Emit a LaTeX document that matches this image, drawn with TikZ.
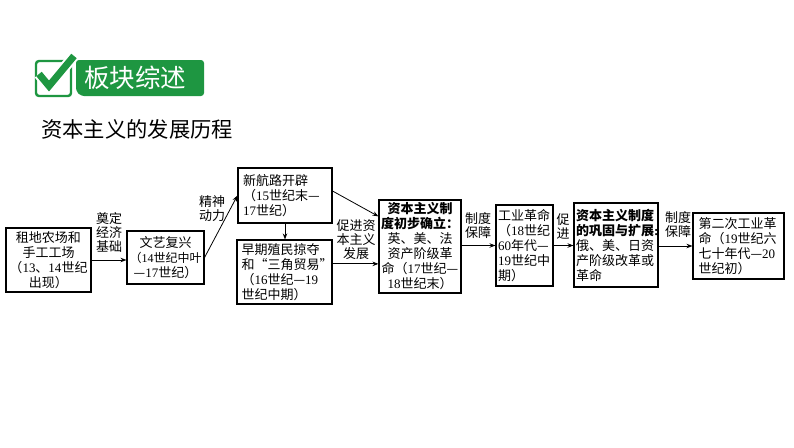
\documentclass[tikz,border=0pt]{standalone}
\usepackage{fontspec}
\setmainfont{Noto Sans CJK SC}
\newfontfamily\lat{Liberation Serif}
\usetikzlibrary{arrows.meta,calc}
\definecolor{badge}{RGB}{30,150,65}
\newcommand\nm[1]{{\lat #1}}
\newcommand\bx{\fontsize{13}{15}\selectfont}
\begin{document}
\begin{tikzpicture}[x=1pt,y=-1pt,
  box/.style={draw, line width=1.1pt, inner sep=0pt, font=\bx},
  lab/.style={font=\fontsize{13}{14}\selectfont, align=center, inner sep=0pt},
  arr/.style={-{Stealth[length=6pt,width=4.5pt]}, line width=0.8pt}]
\useasboundingbox (0,0) rectangle (794,447);
% header badge
\draw[badge, line width=2.4pt, fill=white, rounded corners=3pt] (36,61) rectangle (71,96);
\draw[white, line width=11pt, line join=miter] (39,74) -- (49,86) -- (74,56);
\draw[badge, line width=7pt, line join=miter] (39,74) -- (49,86) -- (74,56);
\fill[badge, rounded corners=3pt] (76,60) -- (204,60) -- (204,96) -- (81,96) -- (76,91) -- cycle;
\node[text=white, font=\fontsize{25.5}{26}\selectfont, inner sep=0pt] (badgetext) at (135,78) {板块综述};
\node[anchor=west, font=\fontsize{21.3}{22}\selectfont, inner sep=0pt] (title) at (41,129) {资本主义的发展历程};
% boxes
\node[box, minimum width=85pt, minimum height=64pt, text width=79pt, align=center] (b1) at (48.5,260)
  {租地农场和\\手工工场\\（\nm{13}、\nm{14}世纪\\出现）};
\node[box, minimum width=77pt, minimum height=53pt, text width=75pt, align=center] (b2) at (165.5,257.5)
  {文艺复兴\\{\fontsize{12}{15}\selectfont（\nm{14}世纪中叶}\\—\nm{17}世纪）};
\node[box, minimum width=94pt, minimum height=55pt, text width=84pt, align=left] (b3) at (285,195.5)
  {新航路开辟\\（\nm{15}世纪末—\\\nm{17}世纪）};
\node[box, minimum width=95pt, minimum height=64pt, text width=86pt, align=left] (b4) at (284.5,272)
  {早期殖民掠夺\\和“三角贸易”\\（\nm{16}世纪—\nm{19}\\世纪中期）};
\node[box, minimum width=82pt, minimum height=93pt, text width=80pt, align=center] (b5) at (420,246.5)
  {\textbf{资本主义制}\\\textbf{度初步确立：}\\英、美、法\\资产阶级革\\命（\nm{17}世纪—\\\nm{18}世纪末）};
\node[box, minimum width=57pt, minimum height=81pt, text width=53pt, align=left] (b6) at (524.5,245.5)
  {工业革命\\（\nm{18}世纪\\\nm{60}年代—\\\nm{19}世纪中\\期）};
\node[box, minimum width=84pt, minimum height=84pt, text width=80pt, align=left] (b7) at (616,245)
  {\textbf{资本主义制度}\\\textbf{的巩固与扩展}{\lat\bfseries :}\\俄、美、日资\\产阶级改革或\\革命};
\node[box, minimum width=91pt, minimum height=66pt, text width=80pt, align=left] (b8) at (738.5,246)
  {第二次工业革\\命（\nm{19}世纪六\\七十年代—\nm{20}\\世纪初）};
% labels
\node[lab] (l1) at (109,232) {奠定\\经济\\基础};
\node[lab] (l2) at (212,209) {精神\\动力};
\node[lab] (l3) at (356,240) {促进资\\本主义\\发展};
\node[lab] (l4) at (478,226) {制度\\保障};
\node[lab] (l5) at (563,226) {促\\进};
\node[lab] (l6) at (678,225) {制度\\保障};
% connectors
\draw[arr] (b1.east) -- (b1.east -| b2.west);
\draw[arr] (b2.east) -- (b3.west);
\draw[arr] (b3.south) -- (b3.south |- b4.north);
\coordinate (s35) at ($(b3.north east)!0.42!(b3.south east)$);
\coordinate (e35) at ($(b5.north west)!0.18!(b5.south west)$);
\draw[arr] (s35) -- (e35);
\coordinate (s45) at ($(b4.north east)!0.375!(b4.south east)$);
\draw[arr] (s45) -- (s45 -| b5.west);
\draw[arr] (b5.east |- b6.west) -- (b6.west);
\draw[arr] (b6.east) -- (b6.east -| b7.west);
\draw[arr] (b7.east |- b8.west) -- (b8.west);
\end{tikzpicture}
\end{document}
